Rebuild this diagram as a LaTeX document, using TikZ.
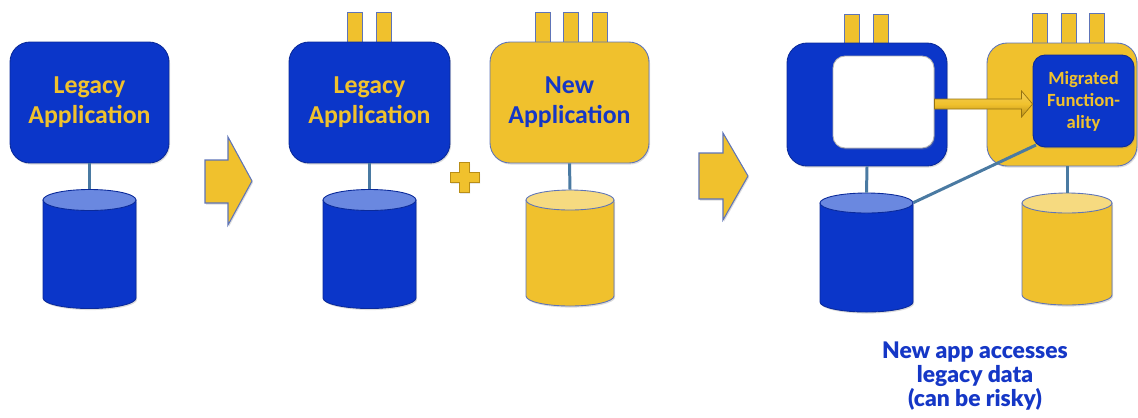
\documentclass[tikz,border=0pt]{standalone}
\usepackage{fontspec}
\setmainfont{Carlito}[BoldFont={Carlito Bold}]
\newfontfamily\notefont{Lato}[BoldFont={Lato Black}]
\usetikzlibrary{shadows,calc}

\definecolor{appblue}{HTML}{0B36C9}
\definecolor{appyellow}{HTML}{F0C12D}
\definecolor{topblue}{HTML}{6A88E0}
\definecolor{topyellow}{HTML}{F6DA80}
\definecolor{linkblue}{HTML}{4A7AA2}
\definecolor{edgeblue}{HTML}{0A2A9A}
\definecolor{edgegray}{HTML}{5E74B8}
\definecolor{textblue}{HTML}{1537C6}
\definecolor{darkyellow}{HTML}{B98E17}

\tikzset{
  softshadow/.style={drop shadow={opacity=0.28,shadow xshift=0.6pt,shadow yshift=-0.9pt}},
  appbox/.style={rounded corners=0.4cm,inner sep=0pt,line width=0.5pt,softshadow,
    font=\bfseries\fontsize{14.7}{17}\selectfont,align=center},
  blueapp/.style={appbox,fill=appblue,draw=edgeblue,text=appyellow},
  yellowapp/.style={appbox,fill=appyellow,draw=edgegray,text=textblue},
  innerbox/.style={rounded corners=0.24cm,inner sep=0pt,line width=0.5pt,softshadow,
    minimum width=2.02cm,minimum height=1.84cm},
  tab/.style={fill=appyellow,draw=edgegray,line width=0.5pt,inner sep=0pt,
    minimum width=0.3cm,minimum height=0.62cm},
  link/.style={draw=linkblue,line width=1.7pt},
  bigarrow/.style={fill=appyellow,draw=edgegray,line width=0.6pt,softshadow,line join=miter},
  smallarrow/.style={top color=appyellow!80!white,bottom color=darkyellow,middle color=appyellow,
    draw=darkyellow!80!black,line width=0.4pt},
  plussign/.style={fill=appyellow,draw=darkyellow,line width=0.5pt,softshadow},
  note/.style={font=\notefont\bfseries\fontsize{13}{13.6}\selectfont,text=textblue,align=center}
}

% database cylinder: name, cx, y of top centre, y of bottom centre, rx, ry, body colour, top colour, outline
\newcommand\dbcyl[9]{%
  \pgfmathsetmacro\rxcm{#5*0.02}%
  \pgfmathsetmacro\rycm{#6*0.02}%
  \pgfmathsetmacro\cylw{2*#5*0.02}%
  \pgfmathsetmacro\cylh{(#4-#3+2*#6)*0.02}%
  \filldraw[fill=#7,draw=#9,line width=0.5pt,softshadow]
    ({#2-#5},#3) -- ({#2-#5},#4)
    arc[start angle=180,end angle=360,x radius=\rxcm cm,y radius=\rycm cm]
    -- ({#2+#5},#3) -- cycle;
  \filldraw[fill=#8,draw=#9,line width=0.5pt] (#2,#3) ellipse[x radius=\rxcm cm,y radius=\rycm cm];
  \node[inner sep=0pt,minimum width=\cylw cm,minimum height=\cylh cm] (#1) at (#2,{(#3+#4)/2}) {};
}

\begin{document}
\begin{tikzpicture}[x=0.02cm,y=-0.02cm]
\useasboundingbox (0,0) rectangle (1138,417);

% ---------- step 1: legacy application alone ----------
\node[blueapp,minimum width=3.18cm,minimum height=2.42cm] (leg1) at (89.5,102.5) {Legacy\\Application};
\dbcyl{db1}{89.5}{200}{298}{46.5}{10.5}{appblue}{topblue}{edgeblue}
\draw[link] (leg1.south) -- (db1.north);

\draw[bigarrow] (205,160) -- (228,160) -- (228,137) -- (252,181) -- (228,225) -- (228,203) -- (205,203) -- cycle;

% ---------- step 2: legacy application plus new application ----------
\node[tab] (t2a) at (354.5,28) {};
\node[tab] (t2b) at (383.5,28) {};
\node[blueapp,minimum width=3.22cm,minimum height=2.42cm] (leg2) at (369.5,102.5) {Legacy\\Application};
\dbcyl{db2}{369.5}{200}{298}{46.5}{10.5}{appblue}{topblue}{edgeblue}
\draw[link] (leg2.south) -- (db2.north);

\draw[plussign] (450,172) -- (459,172) -- (459,162) -- (469,162) -- (469,172) -- (479,172) -- (479,182)
  -- (469,182) -- (469,192) -- (459,192) -- (459,182) -- (450,182) -- cycle;

\node[tab] (t3a) at (542.5,28) {};
\node[tab] (t3b) at (570.5,28) {};
\node[tab] (t3c) at (599.5,28) {};
\node[yellowapp,minimum width=3.18cm,minimum height=2.42cm] (new3) at (569.5,102.5) {New\\Application};
\dbcyl{db3}{570}{200}{296}{44}{10}{appyellow}{topyellow}{edgegray}
\draw[link] (new3.south) -- (db3.north);

\draw[bigarrow] (699,153) -- (723,153) -- (723,133) -- (748,176) -- (723,220) -- (723,199) -- (699,199) -- cycle;

% ---------- step 3: functionality migrated, legacy data shared ----------
\node[tab] (t4a) at (852,30) {};
\node[tab] (t4b) at (880.5,30) {};
\node[blueapp,minimum width=3.2cm,minimum height=2.46cm] (leg4) at (867,104.5) {};
\node[innerbox,fill=white,draw=gray!60] (hole) at (883.5,102) {};
\dbcyl{db4}{866.5}{203}{302}{46.5}{10}{appblue}{topblue}{edgeblue}
\draw[link] (leg4.south) -- (db4.north);

\node[tab] (t5a) at (1039.5,29) {};
\node[tab] (t5b) at (1068.5,29) {};
\node[tab] (t5c) at (1096.5,29) {};
\node[yellowapp,minimum width=3.0cm,minimum height=2.46cm] (new5) at (1062,104.5) {};
\dbcyl{db5}{1067}{203}{295}{45}{10}{appyellow}{topyellow}{edgegray}
\draw[link] (db5.north |- new5.south) -- (db5.north);

\coordinate (db4r) at ($(db4.north east)+(0,10)$);
\coordinate (migfoot) at (1036,145);
\draw[link] (db4r) -- (migfoot);
\node[innerbox,fill=appblue,draw=edgeblue,text=appyellow,align=center,
  font=\bfseries\fontsize{10.6}{12.5}\selectfont] (mig) at (1083.5,101) {Migrated\\Function-\\ality};

\draw[smallarrow]
  ($(hole.east)+(0,-3)$) -- ($(mig.west)+(-11,-2)$) -- ($(mig.west)+(-11,-10)$) -- ($(mig.west)+(0,3)$)
  -- ($(mig.west)+(-11,16)$) -- ($(mig.west)+(-11,8)$) -- ($(hole.east)+(0,7)$) -- cycle;

\node[note] (caption) at (975,376) {New app accesses\\legacy data\\(can be risky)};
\end{tikzpicture}
\end{document}
